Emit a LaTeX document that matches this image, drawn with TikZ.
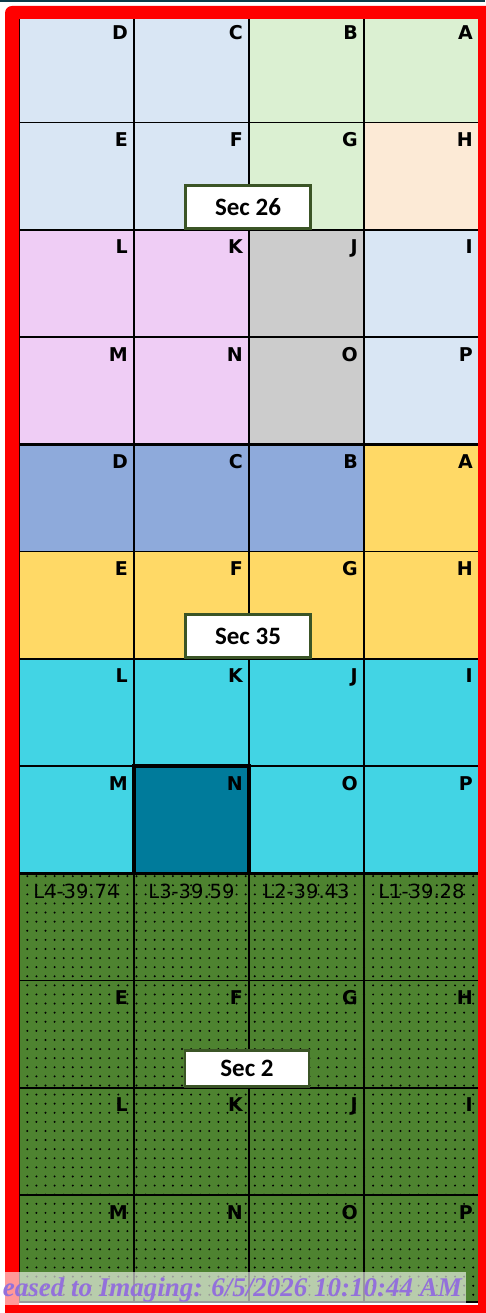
\documentclass[tikz,border=0pt]{standalone}
\usepackage{fontspec}
\usepackage{xcolor}
\usetikzlibrary{patterns.meta}
\newfontfamily\cellfont{DejaVu Sans}
\newfontfamily\secfont{Carlito}
\newfontfamily\stampfont{Liberation Serif}
\definecolor{paleblue}{HTML}{D9E6F4}
\definecolor{palegreen}{HTML}{DBF0D2}
\definecolor{peach}{HTML}{FCEAD6}
\definecolor{lilac}{HTML}{EFCDF5}
\definecolor{midgrey}{HTML}{CCCCCC}
\definecolor{bluegrey}{HTML}{8EAADB}
\definecolor{gold}{HTML}{FFD966}
\definecolor{cyanfill}{HTML}{42D4E4}
\definecolor{deepteal}{HTML}{007B9B}
\definecolor{fieldgreen}{HTML}{4E8330}
\definecolor{secgreen}{HTML}{3B5526}
\definecolor{topband}{HTML}{0D3B4A}
\definecolor{stamppurple}{HTML}{9370DB}
\begin{document}
\begin{tikzpicture}[x=1pt, y=-1pt,
  cell/.style={draw=black, line width=1.8pt, minimum width=115pt, minimum height=107.25pt,
    anchor=north west, inner sep=0pt, outer sep=0pt},
  letter/.style={font=\cellfont\bfseries\fontsize{19}{19}\selectfont, anchor=north east, inner sep=0pt},
  lottag/.style={font=\cellfont\fontsize{19.5}{20}\selectfont, anchor=north, inner sep=0pt},
  seclabel/.style={draw=secgreen, line width=2.6pt, fill=white, anchor=south, inner sep=0pt,
    minimum width=125pt, font=\secfont\bfseries\fontsize{25}{25}\selectfont}]
  \useasboundingbox (0,0) rectangle (485,1313);
  \fill[topband] (0,0) rectangle (485,2);

  % --- Sec 26 ---
  \foreach \lab/\col [count=\i from 0] in {D/paleblue, C/paleblue, B/palegreen, A/palegreen,
      E/paleblue, F/paleblue, G/palegreen, H/peach, L/lilac, K/lilac, J/midgrey, I/paleblue,
      M/lilac, N/lilac, O/midgrey, P/paleblue} {
    \pgfmathsetmacro\cx{19+115*mod(\i,4)}
    \pgfmathsetmacro\cy{15.3+107.25*floor(\i/4)}
    \node[cell, fill=\col] (s26-\lab) at (\cx,\cy) {};
    \node[letter] (t26-\lab) at ([xshift=-6pt, yshift=-10pt]s26-\lab.north east) {\lab};
  }

  % --- Sec 35 ---
  \foreach \lab/\col [count=\i from 0] in {D/bluegrey, C/bluegrey, B/bluegrey, A/gold,
      E/gold, F/gold, G/gold, H/gold, L/cyanfill, K/cyanfill, J/cyanfill, I/cyanfill,
      M/cyanfill, N/deepteal, O/cyanfill, P/cyanfill} {
    \pgfmathsetmacro\cx{19+115*mod(\i,4)}
    \pgfmathsetmacro\cy{444.3+107.25*floor(\i/4)}
    \node[cell, fill=\col] (s35-\lab) at (\cx,\cy) {};
    \node[letter] (t35-\lab) at ([xshift=-6pt, yshift=-10pt]s35-\lab.north east) {\lab};
  }
  \draw[line width=3.6pt] (s35-N.north west) rectangle (s35-N.south east);

  % --- Sec 2 ---
  \foreach \lab [count=\i from 0] in {D, C, B, A, E, F, G, H, L, K, J, I, M, N, O, P} {
    \pgfmathsetmacro\cx{19+115*mod(\i,4)}
    \pgfmathsetmacro\cy{873.3+107.25*floor(\i/4)}
    \node[cell, fill=fieldgreen] (s2-\lab) at (\cx,\cy) {};
  }
  % lot tags in the top row
  \node[lottag] (lot4) at ([yshift=-11pt]s2-D.north) {L4-39.74};
  \node[lottag] (lot3) at ([yshift=-11pt]s2-C.north) {L3-39.59};
  \node[lottag] (lot2) at ([yshift=-11pt]s2-B.north) {L2-39.43};
  \node[lottag] (lot1) at ([yshift=-11pt]s2-A.north) {L1-39.28};
  \foreach \lab in {E, F, G, H, L, K, J, I, M, N, O, P}
    \node[letter] (t2-\lab) at ([xshift=-6pt, yshift=-10pt]s2-\lab.north east) {\lab};
  \fill[pattern={Dots[distance=9.1pt, radius=1.1pt]}, pattern color=black]
    (s2-D.north west) rectangle (s2-P.south east);

  % section borders
  \draw[line width=2.8pt] (s26-M.south west) -- (s26-P.south east);
  \draw[line width=2.8pt] (s35-M.south west) -- (s35-P.south east);
  \draw[line width=2.4pt] (s35-L.north west) -- (s35-I.north east);

  % --- Labels ---
  \node[seclabel, minimum height=43pt] (sec26) at ([xshift=-1pt]s26-F.south east) {Sec 26};
  \node[seclabel, minimum height=43pt] (sec35) at ([xshift=-1pt]s35-F.south east) {Sec 35};
  \node[seclabel, minimum height=36pt, minimum width=124pt] (sec2) at ([xshift=-2pt]s2-F.south east) {Sec 2};

  % red frame
  \fill[red, even odd rule] [rounded corners=7pt] (5,6) rectangle (505,1330)
    [sharp corners] (19,19) rectangle (478,1305);

  % stamp
  \fill[white, opacity=0.6] (0,1272) rectangle (466,1305);
  \node[font=\stampfont\bfseries\itshape\fontsize{27}{27}\selectfont, text=stamppurple,
    anchor=base east, inner sep=0pt] (stamp) at (462,1296) {eased to Imaging: 6/5/2026 10:10:44 AM};
\end{tikzpicture}
\end{document}
